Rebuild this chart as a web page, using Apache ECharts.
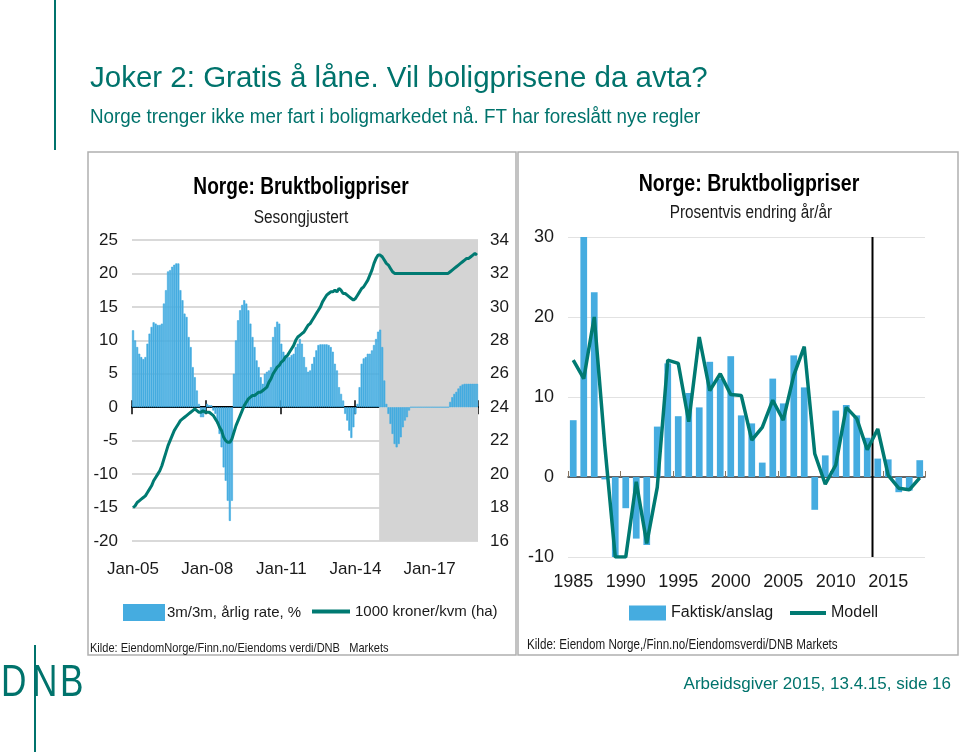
<!DOCTYPE html>
<html>
<head>
<meta charset="utf-8">
<script src="https://cdn.jsdelivr.net/npm/echarts@6/dist/echarts.min.js"></script>
<style>
html, body { margin: 0; padding: 0; background: #fff; }
#main { width: 960px; height: 752px; }
</style>
</head>
<body>
<div id="main"></div>
<script>
// Venstre graf: månedlige data jan 2005 - des 2018
var startYear = 2005;
var monthCount = 168;
var prognoseStartIndex = 120; // jan 2015

// 3m/3m, årlig rate, % (venstre akse)
var rate3m = [
	11.5, 10, 9, 8, 7.5, 7.2, 7.5, 9.5, 11, 12, 12.7, 12.5,
	12.3, 12.3, 12.5, 15.5, 17.5, 20.3, 20.5, 21, 21.3, 21.5, 21.5, 17.5,
	16, 14, 13.5, 10.5, 9, 6, 4.5, 2.5, 0.5, -1.5, -1.5, -0.5,
	0.5, 0.3, 0.3, -0.5, -1, -2.5, -4, -6, -9, -11, -14, -17,
	-14, 5, 10, 13, 14.5, 15.3, 16, 15.5, 14.5, 12.5, 10.5, 9,
	7, 6, 4.5, 3.5, 5, 5.3, 5.5, 6, 10.5, 12, 12.8, 12.5,
	9.5, 8.3, 7.8, 7.5, 7.5, 7.8, 8, 9, 9.5, 10.2, 9.5, 7.5,
	6, 5.3, 5.5, 6.5, 7.5, 8.5, 9.3, 9.4, 9.4, 9.4, 9.4, 9.3,
	9, 8.3, 6.5, 5.5, 3, 2, 1, -1, -2, -3.5, -4.6, -3,
	-1, 0.5, 3, 6.5, 7.3, 7.5, 8, 8, 8.5, 9.3, 10.2, 11.3,
	11.6, 9, 4, 0.5, -1, -2.5, -4, -5.5, -6, -5.5, -4.5, -3,
	-2, -1.5, -0.5, 0, 0, 0, 0, 0, 0, 0, 0, 0,
	0, 0, 0, 0, 0, 0, 0, 0, 0, 0, 0.8, 1.5,
	2, 2.3, 2.8, 3.2, 3.4, 3.5, 3.5, 3.5, 3.5, 3.5, 3.5, 3.5
];

// 1000 kroner/kvm (høyre akse)
var kronerKvm = [
	18.0, 18.1, 18.3, 18.4, 18.5, 18.6, 18.7, 18.9, 19.1, 19.3, 19.6, 19.8,
	20.0, 20.2, 20.5, 20.9, 21.3, 21.7, 22.0, 22.3, 22.6, 22.8, 23.0, 23.2,
	23.3, 23.4, 23.5, 23.6, 23.7, 23.8, 23.9, 23.8, 23.7, 23.7, 23.8, 23.7,
	23.7, 23.7, 23.6, 23.5, 23.3, 23.1, 22.8, 22.6, 22.2, 22.0, 21.9, 21.9,
	22.1, 22.5, 22.9, 23.2, 23.5, 23.8, 24.1, 24.3, 24.5, 24.6, 24.7, 24.7,
	24.8, 24.9, 24.9, 25.0, 25.1, 25.2, 25.5, 25.7, 26.0, 26.2, 26.4, 26.5,
	26.7, 26.8, 27.0, 27.1, 27.3, 27.5, 27.7, 28.0, 28.2, 28.3, 28.4, 28.5,
	28.7, 28.9, 29.0, 29.2, 29.4, 29.6, 29.8, 30.0, 30.3, 30.5, 30.7, 30.8,
	30.9, 30.9, 31.0, 30.9, 31.1, 31.0, 30.8, 30.8, 30.7, 30.6, 30.5, 30.4,
	30.5, 30.7, 30.9, 31.1, 31.2, 31.4, 31.6, 31.9, 32.2, 32.6, 32.9, 33.1,
	33.1, 33.0, 32.8, 32.6, 32.5, 32.3, 32.1, 32.0, 32.0, 32.0, 32.0, 32.0,
	32.0, 32.0, 32.0, 32.0, 32.0, 32.0, 32.0, 32.0, 32.0, 32.0, 32.0, 32.0,
	32.0, 32.0, 32.0, 32.0, 32.0, 32.0, 32.0, 32.0, 32.0, 32.0, 32.1, 32.2,
	32.3, 32.4, 32.5, 32.6, 32.7, 32.8, 32.9, 32.9, 33.0, 33.1, 33.2, 33.1
];

// Høyre graf: årlige data 1985 - 2018
var years = ['1985', '1986', '1987', '1988', '1989', '1990', '1991', '1992', '1993', '1994',
	'1995', '1996', '1997', '1998', '1999', '2000', '2001', '2002', '2003', '2004',
	'2005', '2006', '2007', '2008', '2009', '2010', '2011', '2012', '2013', '2014',
	'2015', '2016', '2017', '2018'];
var faktisk = [7.1, 30, 23.1, -0.3, -10.2, -3.9, -7.7, -8.5, 6.3, 14.2,
	7.6, 10.5, 8.7, 14.4, 12.3, 15.1, 7.7, 6.7, 1.8, 12.3,
	9.2, 15.2, 11.2, -4.1, 2.7, 8.3, 9.0, 7.7, 4.9, 2.3,
	2.2, -1.9, -1.7, 2.1];
var modell = [14.6, 12.3, 20.0, 4.0, -10, -10, -0.6, -8.3, -1.3, 14.6,
	14.2, 6.9, 17.5, 10.8, 12.9, 10.3, 10.2, 4.6, 6.2, 9.6,
	7.1, 12.7, 16.3, 2.9, -0.9, 1.5, 8.7, 7.3, 3.4, 6.0,
	0.2, -1.4, -1.6, -0.1];
var sisteFaktiskeAar = 2013;

// Månedsetiketter "Jan-05" osv.
var mnd = ['Jan', 'Feb', 'Mar', 'Apr', 'May', 'Jun', 'Jul', 'Aug', 'Sep', 'Oct', 'Nov', 'Dec'];
var months = [];
for (var i = 0; i < monthCount; i++) {
	var y = startYear + Math.floor(i / 12);
	months.push(mnd[i % 12] + '-' + String(y).slice(2));
}

var teal = '#00736C';
var blue = '#45ACE0';
var lineCol = '#007A72';
var sans = "'Liberation Sans', Arial, sans-serif";
var txt = '#1a1a1a';

var myChart = echarts.init(document.getElementById('main'), null, { renderer: 'canvas' });

// tekst med horisontal sammentrykking (Arial Narrow finnes ikke)
function tekst(x, y, s, font, farge, align, sx) {
	return {
		type: 'text', x: x, y: y, scaleX: sx || 1,
		style: { text: s, font: font, fill: farge, textAlign: align || 'left', textVerticalAlign: 'middle' }
	};
}

var option = {
	animation: false,
	backgroundColor: '#fff',
	textStyle: { fontFamily: sans },
	grid: [
		{ left: 132, top: 240, width: 346, height: 301 },
		{ left: 568, top: 237, width: 357, height: 320 }
	],
	xAxis: [
		// 0: etiketter nederst, venstre graf
		{
			type: 'category', gridIndex: 0, data: months, position: 'bottom',
			axisLine: { show: false, onZero: false },
			axisTick: { show: false },
			axisLabel: { interval: 35, margin: 20, fontSize: 17, color: txt },
			splitLine: { show: false }
		},
		// 1: nullinje med tikker ned
		{
			type: 'category', gridIndex: 0, data: months,
			axisLine: { show: true, onZero: true, onZeroAxisIndex: 0, lineStyle: { color: '#000', width: 2 } },
			axisTick: { show: true, interval: 35, length: 7, lineStyle: { color: '#000', width: 1.5 } },
			axisLabel: { show: false }
		},
		// 2: tikker opp
		{
			type: 'category', gridIndex: 0, data: months,
			axisLine: { show: true, onZero: true, onZeroAxisIndex: 0, lineStyle: { color: 'rgba(0,0,0,0)', width: 1 } },
			axisTick: { show: true, inside: true, interval: 35, length: 7, lineStyle: { color: '#000', width: 1.5 } },
			axisLabel: { show: false }
		},
		// 3: etiketter høyre graf
		{
			type: 'category', gridIndex: 1, data: years, position: 'bottom',
			axisLine: { show: false, onZero: false },
			axisTick: { show: false },
			axisLabel: { interval: 4, margin: 16, fontSize: 18, color: txt }
		},
		// 4: nullinje høyre graf
		{
			type: 'category', gridIndex: 1, data: years,
			axisLine: { show: true, onZero: true, onZeroAxisIndex: 2, lineStyle: { color: '#333', width: 1.5 } },
			axisTick: { show: true, interval: 4, length: 6, lineStyle: { color: '#8a7560', width: 1 } },
			axisLabel: { show: false }
		},
		// 5: skjult verdiakse for prognoselinjen
		{ type: 'value', gridIndex: 1, min: 1984.5, max: 2018.5, show: false, axisLine: { onZero: false } },
		// 6: skjult verdiakse (månedsindeks) for skyggelagt prognoseperiode
		{ type: 'value', gridIndex: 0, min: 0, max: monthCount, show: false, axisLine: { onZero: false } }
	],
	yAxis: [
		{
			type: 'value', gridIndex: 0, min: -20, max: 25, interval: 5,
			axisLine: { show: false, onZero: false }, axisTick: { show: false },
			axisLabel: { fontSize: 17, color: txt, margin: 14 },
			splitLine: { lineStyle: { color: '#d9d9d9', width: 2 } }
		},
		{
			type: 'value', gridIndex: 0, min: 16, max: 34, interval: 2, position: 'right',
			axisLine: { show: false, onZero: false }, axisTick: { show: false },
			axisLabel: { fontSize: 17, color: txt, margin: 12 },
			splitLine: { show: false }
		},
		{
			type: 'value', gridIndex: 1, min: -10, max: 30, interval: 10,
			axisLine: { show: false, onZero: false }, axisTick: { show: false },
			axisLabel: { fontSize: 18, color: txt, margin: 14 },
			splitLine: { lineStyle: { color: '#e2e2e2', width: 1 } }
		}
	],
	legend: [
		{
			data: ['3m/3m, årlig rate, %'], icon: 'rect', padding: 0, itemGap: 0,
			left: 123, top: 604, itemWidth: 40, itemHeight: 15,
			textStyle: { fontSize: 15, color: txt, padding: [0, 0, 0, -2] }
		},
		{
			data: ['1000 kroner/kvm (ha)'], icon: 'rect', padding: 0,
			left: 312, top: 604, itemWidth: 38, itemHeight: 4,
			textStyle: { fontSize: 15, color: txt }
		},
		{
			data: ['Faktisk/anslag'], icon: 'rect', padding: 0,
			left: 629, top: 605, itemWidth: 37, itemHeight: 15,
			textStyle: { fontSize: 16, color: txt }
		},
		{
			data: ['Modell'], icon: 'rect', padding: 0,
			left: 790, top: 605, itemWidth: 36, itemHeight: 4,
			textStyle: { fontSize: 16, color: txt }
		}
	],
	series: [
		{
			name: 'prognoseperiode', type: 'line', xAxisIndex: 6, yAxisIndex: 0,
			data: [], silent: true, z: 1,
			markArea: {
				silent: true,
				itemStyle: { color: '#d4d4d4' },
				data: [[{ xAxis: prognoseStartIndex }, { xAxis: monthCount }]]
			}
		},
		{
			name: '3m/3m, årlig rate, %', type: 'bar', xAxisIndex: 0, yAxisIndex: 0,
			data: rate3m, barWidth: '100%', z: 2,
			itemStyle: { color: blue, borderColor: blue, borderWidth: 0.6 }
		},
		{
			name: '1000 kroner/kvm (ha)', type: 'line', xAxisIndex: 0, yAxisIndex: 1,
			data: kronerKvm, symbol: 'none', z: 5,
			lineStyle: { color: lineCol, width: 3 }, itemStyle: { color: lineCol }
		},
		{
			name: 'Faktisk/anslag', type: 'bar', xAxisIndex: 3, yAxisIndex: 2,
			data: faktisk, barWidth: '64%',
			itemStyle: { color: blue }
		},
		{
			name: 'Modell', type: 'line', xAxisIndex: 3, yAxisIndex: 2,
			data: modell, symbol: 'none', z: 5,
			lineStyle: { color: lineCol, width: 3.5 }, itemStyle: { color: lineCol }
		},
		{
			name: 'prognose', type: 'line', xAxisIndex: 5, yAxisIndex: 2,
			data: [[sisteFaktiskeAar + 0.5, -10], [sisteFaktiskeAar + 0.5, 30]],
			symbol: 'none', silent: true, z: 4,
			lineStyle: { color: '#000', width: 2 }
		}
	],
	graphic: [
		// panelrammer
		{ type: 'rect', shape: { x: 88, y: 152, width: 428, height: 503 }, style: { fill: 'none', stroke: '#b0b0b0', lineWidth: 1.5 } },
		{ type: 'rect', shape: { x: 518, y: 152, width: 440, height: 503 }, style: { fill: 'none', stroke: '#b0b0b0', lineWidth: 1.5 } },
		// vertikal strek øverst til venstre
		{ type: 'line', shape: { x1: 55, y1: 0, x2: 55, y2: 150 }, style: { stroke: teal, lineWidth: 2 } },
		// overskrift
		tekst(90, 79, 'Joker 2: Gratis å låne. Vil boligprisene da avta?', '29.5px ' + sans, teal),
		tekst(90, 117, 'Norge trenger ikke mer fart i boligmarkedet nå. FT har foreslått nye regler', '20px ' + sans, teal, 'left', 0.94),
		// graftitler
		tekst(301, 188, 'Norge: Bruktboligpriser', 'bold 23px ' + sans, '#000', 'center', 0.83),
		tekst(301, 218, 'Sesongjustert', '18px ' + sans, txt, 'center', 0.86),
		tekst(749, 185, 'Norge: Bruktboligpriser', 'bold 23px ' + sans, '#000', 'center', 0.85),
		tekst(751, 213, 'Prosentvis endring år/år', '18px ' + sans, txt, 'center', 0.85),
		// kilder
		tekst(90, 648, 'Kilde: EiendomNorge/Finn.no/Eiendoms verdi/DNB   Markets', '13px ' + sans, txt, 'left', 0.85),
		tekst(527, 645, 'Kilde: Eiendom Norge,/Finn.no/Eiendomsverdi/DNB Markets', '14px ' + sans, txt, 'left', 0.83),
		// bunntekst
		tekst(951, 684, 'Arbeidsgiver 2015, 13.4.15, side 16', '17px ' + sans, teal, 'right'),
		// DNB-logo
		{ type: 'line', shape: { x1: 35, y1: 645, x2: 35, y2: 752 }, style: { stroke: teal, lineWidth: 2 } },
		tekst(1, 684, 'D', '44px ' + sans, teal, 'left', 0.8),
		tekst(32, 684, 'N', '44px ' + sans, teal, 'left', 0.8),
		tekst(60, 684, 'B', '44px ' + sans, teal, 'left', 0.8)
	]
};

myChart.setOption(option);
</script>
</body>
</html>
